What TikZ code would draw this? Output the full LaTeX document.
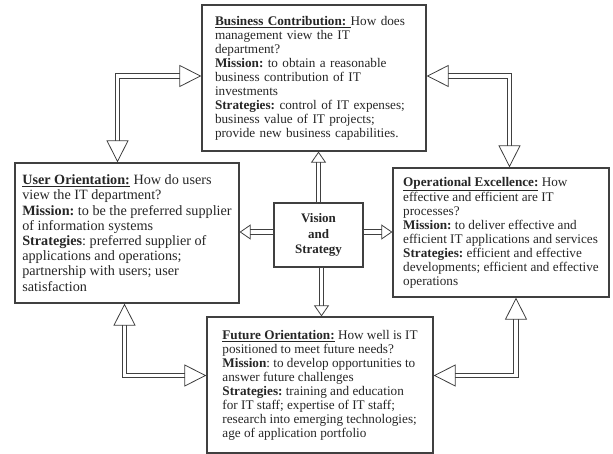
\documentclass[tikz,border=0pt]{standalone}
\usepackage{fontspec}
\setmainfont{Liberation Serif}
\usetikzlibrary{arrows.meta,positioning}
\frenchspacing
\tikzset{
  box/.style={draw=black!75, line width=1.2pt, inner sep=0pt, align=left,
    text=black!85, font=\fontsize{13.2}{14}\selectfont},
  hollow/.style={draw=black!75, double=white, double distance=3.6pt, line width=0.8pt},
  bigtip/.tip={Triangle[open, width=22pt, length=22pt, line width=0.8pt]},
  smalltip/.tip={Triangle[open, width=15pt, length=11pt, line width=0.8pt]},
  corner/.style={hollow, {bigtip}-{bigtip}},
  spoke/.style={hollow, -{smalltip}},
}
\begin{document}
\begin{tikzpicture}[x=1pt, y=-1pt]
    \useasboundingbox (0,0) rectangle (613,454);
    % the five boxes
    \node[box, minimum width=224pt, minimum height=146pt, inner xsep=13pt, text width=198pt] (busi) at (314,78)
      {\underline{\textbf{Business Contribution:}\ }How does\\
       management view the IT\\ department?\\
       \textbf{Mission:} to obtain a reasonable\\ business contribution of IT\\ investments\\
       \textbf{Strategies:} control of IT expenses;\\ business value of IT projects;\\
       provide new business capabilities.};
    \node[box, minimum width=224pt, minimum height=140pt,
      font=\fontsize{14.2}{15.2}\selectfont] (user) at (127,233)
      {\underline{\textbf{User Orientation:}} How do users\\ view the IT department?\\
       \textbf{Mission:} to be the preferred supplier\\ of information systems\\
       \textbf{Strategies}: preferred supplier of\\ applications and operations;\\
       partnership with users; user\\ satisfaction};
    \node[box, minimum width=216pt, minimum height=129pt] (oper) at (501,232.5)
      {\underline{\textbf{Operational Excellence:}} How\\ effective and efficient are IT\\ processes?\\
       \textbf{Mission:} to deliver effective and\\ efficient IT applications and services\\
       \textbf{Strategies:} efficient and effective\\ developments; efficient and effective\\ operations};
    \node[box, minimum width=226pt, minimum height=136pt] (fut) at (320,385)
      {\underline{\textbf{Future Orientation:}} How well is IT\\ positioned to meet future needs?\\
       \textbf{Mission}: to develop opportunities to\\ answer future challenges\\
       \textbf{Strategies:} training and education\\ for IT staff; expertise of IT staff;\\
       research into emerging technologies;\\ age of application portfolio};
    \node[box, minimum width=89pt, minimum height=64pt, align=center,
      font=\bfseries\fontsize{13}{15.5}\selectfont] (vis) at (318.5,235) {Vision\\ and\\ Strategy};

    % arrows out of the centre
    \draw[spoke] (vis.north) -- (vis.north |- busi.south);
    \draw[spoke] ([xshift=3pt]vis.south) -- ([xshift=3pt]vis.south |- fut.north);
    \draw[spoke] ([yshift=3pt]vis.west) -- ([yshift=3pt]vis.west -| user.east);
    \draw[spoke] ([yshift=3pt]vis.east) -- ([yshift=3pt]vis.east -| oper.west);

    % arrows round the corners
    \draw[corner] ([yshift=2pt]busi.west) -| ([xshift=-9.5pt]user.north);
    \draw[corner] ([yshift=2pt]busi.east) -| ([xshift=8.5pt]oper.north);
    \draw[corner] ([xshift=-2.5pt]user.south) |- ([yshift=9.5pt]fut.west);
    \draw[corner] ([xshift=15pt]oper.south) |- ([yshift=9.5pt]fut.east);
\end{tikzpicture}
\end{document}
